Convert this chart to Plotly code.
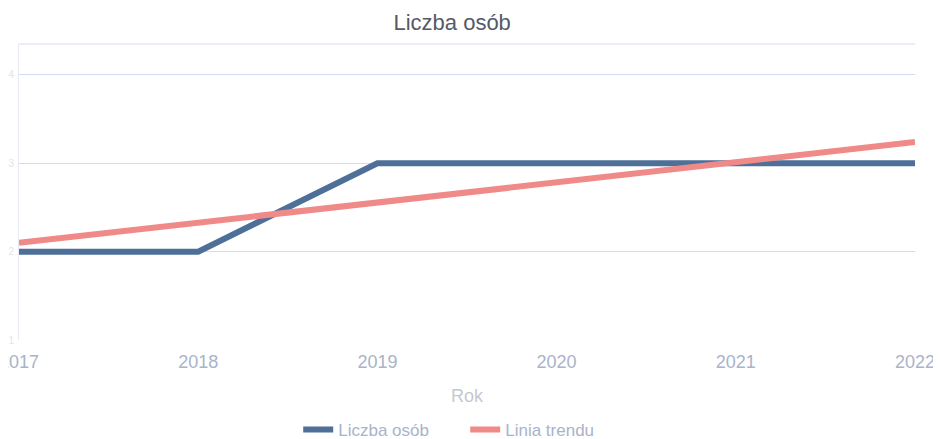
import plotly.graph_objects as go

years = [2017, 2018, 2019, 2020, 2021, 2022]
liczba_osob = [2, 2, 3, 3, 3, 3]
linia_trendu = [2.10, 2.33, 2.55, 2.78, 3.01, 3.24]
y_ticks = [1, 2, 3, 4]

fig = go.Figure()
fig.add_trace(go.Scatter(
    x=years, y=liczba_osob, mode="lines", name="Liczba osób",
    line=dict(color="#4e6f98", width=6),
))
fig.add_trace(go.Scatter(
    x=years, y=linia_trendu, mode="lines", name="Linia trendu",
    line=dict(color="#ef8a88", width=6),
))

fig.update_layout(
    width=941, height=455,
    paper_bgcolor="white", plot_bgcolor="white",
    margin=dict(l=11, r=34, t=36, b=123),
    title=dict(text="Liczba osób", x=0.472, xanchor="center", y=1 - 14 / 455, yanchor="middle",
               font=dict(family="Liberation Sans, Arial, sans-serif", size=22, color="#555a66")),
    font=dict(family="Liberation Sans, Arial, sans-serif"),
    xaxis=dict(
        tickmode="array", tickvals=years, ticktext=[str(y) for y in years],
        range=[2017, 2022], showgrid=False, zeroline=False, showline=False,
        tickfont=dict(size=18, color="#a9b3c9"), ticks="", ticklabelstandoff=9,
        automargin=False, ticklabeloverflow="allow",
        title=dict(text="Rok", font=dict(size=18, color="#c4c8d2"), standoff=18),
    ),
    yaxis=dict(
        tickmode="array", tickvals=y_ticks, range=[1, 4.35],
        showgrid=True, gridcolor="#d3ddf0", gridwidth=1, zeroline=False,
        showline=True, linecolor="#e6ebf5", linewidth=1,
        tickfont=dict(size=10, color="#e4e4e4"), ticks="", ticklabelstandoff=2,
        automargin=False, ticklabeloverflow="allow",
    ),
    legend=dict(orientation="h", x=0.498, xanchor="center", y=-0.304, yanchor="middle",
                font=dict(size=17, color="#a9b3c9"), entrywidth=122, entrywidthmode="pixels",
                tracegroupgap=0),
    showlegend=True,
)
fig.add_shape(type="line", xref="paper", yref="paper", x0=0, x1=1, y0=1, y1=1,
              line=dict(color="#d3ddf0", width=1))

fig.write_html("out.html")
